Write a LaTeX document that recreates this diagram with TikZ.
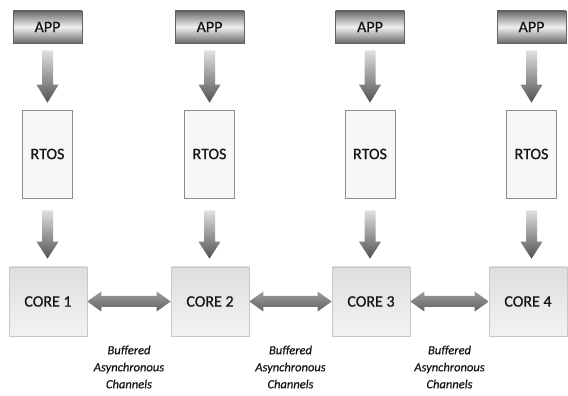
\documentclass[tikz,border=0pt]{standalone}
\usepackage{fontspec}
\setmainfont{Carlito}
\newfontfamily\boxfont[FakeBold=0.6]{Carlito}
\newfontfamily\lblfont[FakeBold=0.5,ItalicFont=Carlito Italic]{Carlito}
\usetikzlibrary{calc}
\definecolor{txt}{HTML}{151515}
\tikzset{
  appbox/.style={draw=black!62, line width=0.8pt, top color=black!58, bottom color=black!58, middle color=black!6,
    minimum width=69pt, minimum height=32pt, inner sep=0pt, text=txt, font=\boxfont\fontsize{16}{18}\selectfont},
  rtosbox/.style={draw=black!45, line width=0.6pt, fill=black!3,
    minimum width=50pt, minimum height=88pt, inner sep=0pt, text=txt, font=\boxfont\fontsize{16}{18}\selectfont},
  corebox/.style={draw=black!22, line width=0.6pt, top color=black!13, bottom color=black!5,
    minimum width=78pt, minimum height=69pt, inner sep=0pt, text=txt, font=\boxfont\fontsize{16}{18}\selectfont},
  chanlabel/.style={align=center, text=txt, font=\lblfont\fontsize{12.5}{17}\selectfont\itshape},
  varrow/.style={top color=black!12, bottom color=black!68, draw=none},
  harrow/.style={top color=black!38, bottom color=black!62, middle color=black!50, draw=none},
}
\newcommand\vArrow[5]{%
  \path[varrow] let \p1=(#1.south), \p2=(#2.north) in
    (\x1-5.5pt,\y1-#3) -- (\x1+5.5pt,\y1-#3) -- (\x1+5.5pt,\y2+#4+#5) -- (\x1+11pt,\y2+#4+#5)
    -- (\x1,\y2+#4) -- (\x1-11pt,\y2+#4+#5) -- (\x1-5.5pt,\y2+#4+#5) -- cycle;}
\newcommand\hArrow[2]{%
  \path[harrow] let \p1=(#1.east), \p2=(#2.west) in
    (\x1,\y1) -- (\x1+14pt,\y1+10pt) -- (\x1+14pt,\y1+5.5pt) -- (\x2-14pt,\y1+5.5pt)
    -- (\x2-14pt,\y1+10pt) -- (\x2,\y1) -- (\x2-14pt,\y1-10pt) -- (\x2-14pt,\y1-5.5pt)
    -- (\x1+14pt,\y1-5.5pt) -- (\x1+14pt,\y1-10pt) -- cycle;}
\begin{document}
\begin{tikzpicture}[x=1pt,y=1pt]
\useasboundingbox (0,0) rectangle (568,396);
\fill[white] (0,0) rectangle (568,396);
% columns
\foreach \i/\xa/\xc in {1/47.5/48, 2/209.5/210, 3/370/371, 4/531.5/528}{
  \node[appbox] (app\i) at (\xa,369) {APP};
  \node[rtosbox] (rtos\i) at (\xa,242) {RTOS};
  \node[corebox] (core\i) at (\xc,94.5) {CORE \i};
}
\foreach \i in {1,...,4}{
  \vArrow{app\i}{rtos\i}{7pt}{7pt}{18pt}
  \vArrow{rtos\i}{core\i}{12pt}{8pt}{17pt}
}
\hArrow{core1}{core2}
\hArrow{core2}{core3}
\hArrow{core3}{core4}
\node[chanlabel] (lbl1) at ($(core1.east)!0.5!(core2.west)+(0,-65.5)$) {Buffered\\Asynchronous\\Channels};
\node[chanlabel] (lbl2) at ($(core2.east)!0.5!(core3.west)+(0,-65.5)$) {Buffered\\Asynchronous\\Channels};
\node[chanlabel] (lbl3) at ($(core3.east)!0.5!(core4.west)+(0,-65.5)$) {Buffered\\Asynchronous\\Channels};
\end{tikzpicture}
\end{document}
